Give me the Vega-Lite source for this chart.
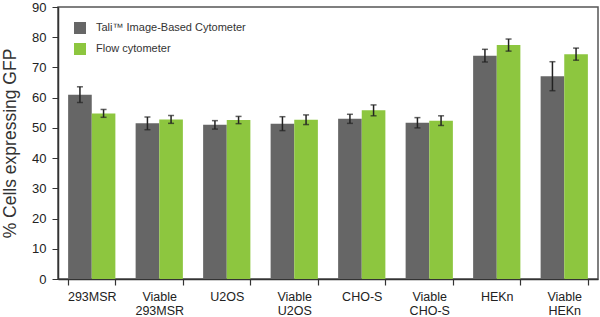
{
  "$schema": "https://vega.github.io/schema/vega-lite/v6.json",
  "width": 540,
  "height": 272,
  "autosize": {"type": "none"},
  "padding": {"left": 58, "top": 7, "right": 2, "bottom": 38},
  "background": "white",
  "config": {
    "font": "Liberation Sans",
    "view": {"stroke": "#555555", "strokeWidth": 1.5},
    "axisY": {
      "titleFontSize": 17.5,
      "titleFontWeight": "normal",
      "titleColor": "#333333",
      "titlePadding": 12,
      "labelOverlap": false,
      "labelFlush": false,
      "labelFontSize": 13,
      "labelColor": "#222222",
      "labelPadding": 6,
      "grid": false,
      "tickSize": 6,
      "tickColor": "#333333",
      "domainColor": "#333333",
      "domainWidth": 1.5
    }
  },
  "data": {
    "values": [
      {"cat": "293MSR", "method": "Tali™ Image-Based Cytometer", "value": 61.0, "err": 2.6},
      {"cat": "293MSR", "method": "Flow cytometer", "value": 54.8, "err": 1.3},
      {"cat": "Viable|293MSR", "method": "Tali™ Image-Based Cytometer", "value": 51.5, "err": 2.1},
      {"cat": "Viable|293MSR", "method": "Flow cytometer", "value": 52.8, "err": 1.3},
      {"cat": "U2OS", "method": "Tali™ Image-Based Cytometer", "value": 51.0, "err": 1.4},
      {"cat": "U2OS", "method": "Flow cytometer", "value": 52.6, "err": 1.2},
      {"cat": "Viable|U2OS", "method": "Tali™ Image-Based Cytometer", "value": 51.4, "err": 2.3},
      {"cat": "Viable|U2OS", "method": "Flow cytometer", "value": 52.7, "err": 1.6},
      {"cat": "CHO-S", "method": "Tali™ Image-Based Cytometer", "value": 53.0, "err": 1.5},
      {"cat": "CHO-S", "method": "Flow cytometer", "value": 55.8, "err": 1.8},
      {"cat": "Viable|CHO-S", "method": "Tali™ Image-Based Cytometer", "value": 51.7, "err": 1.7},
      {"cat": "Viable|CHO-S", "method": "Flow cytometer", "value": 52.4, "err": 1.6},
      {"cat": "HEKn", "method": "Tali™ Image-Based Cytometer", "value": 73.9, "err": 2.1},
      {"cat": "HEKn", "method": "Flow cytometer", "value": 77.4, "err": 2.0},
      {"cat": "Viable|HEKn", "method": "Tali™ Image-Based Cytometer", "value": 67.1, "err": 4.8},
      {"cat": "Viable|HEKn", "method": "Flow cytometer", "value": 74.4, "err": 2.0}
    ]
  },
  "transform": [
    {"calculate": "datum.value - datum.err", "as": "lo"},
    {"calculate": "datum.value + datum.err", "as": "hi"}
  ],
  "encoding": {
    "x": {
      "field": "cat",
      "type": "nominal",
      "sort": null,
      "scale": {"paddingInner": 0.3, "paddingOuter": 0.15},
      "axis": {
        "title": null,
        "labelAngle": 0,
        "labelExpr": "split(datum.label, '|')",
        "labelFontSize": 12.5,
        "labelColor": "#222222",
        "labelPadding": 5,
        "labelLineHeight": 14,
        "tickBand": "extent",
        "tickSize": 6,
        "tickColor": "#333333",
        "tickWidth": 1.2,
        "domainColor": "#333333",
        "domainWidth": 1.5
      }
    },
    "xOffset": {
      "field": "method",
      "type": "nominal",
      "sort": ["Tali™ Image-Based Cytometer", "Flow cytometer"],
      "scale": {"paddingInner": 0, "paddingOuter": 0}
    }
  },
  "layer": [
    {
      "mark": {"type": "bar"},
      "encoding": {
        "y": {
          "field": "value",
          "type": "quantitative",
          "scale": {"domain": [0, 90], "nice": false},
          "axis": {"title": "% Cells expressing GFP", "values": [0, 10, 20, 30, 40, 50, 60, 70, 80, 90]}
        },
        "color": {
          "field": "method",
          "type": "nominal",
          "sort": ["Tali™ Image-Based Cytometer", "Flow cytometer"],
          "scale": {"domain": ["Tali™ Image-Based Cytometer", "Flow cytometer"], "range": ["#666666", "#8dc63f"]},
          "legend": {
            "title": null,
            "orient": "none",
            "legendX": 16,
            "legendY": 15,
            "symbolType": "square",
            "symbolSize": 144,
            "symbolStrokeWidth": 0,
            "labelFontSize": 11,
            "labelLimit": 400,
            "labelColor": "#333333",
            "labelOffset": 10,
            "rowPadding": 9
          }
        }
      }
    },
    {
      "mark": {"type": "rule", "color": "#222222", "strokeWidth": 1.5},
      "encoding": {
        "y": {"field": "lo", "type": "quantitative", "axis": {"title": "% Cells expressing GFP", "values": [0, 10, 20, 30, 40, 50, 60, 70, 80, 90]}},
        "y2": {"field": "hi"}
      }
    },
    {
      "mark": {"type": "tick", "color": "#222222", "thickness": 1.5, "size": 6},
      "encoding": {"y": {"field": "lo", "type": "quantitative", "axis": {"title": "% Cells expressing GFP", "values": [0, 10, 20, 30, 40, 50, 60, 70, 80, 90]}}}
    },
    {
      "mark": {"type": "tick", "color": "#222222", "thickness": 1.5, "size": 6},
      "encoding": {"y": {"field": "hi", "type": "quantitative", "axis": {"title": "% Cells expressing GFP", "values": [0, 10, 20, 30, 40, 50, 60, 70, 80, 90]}}}
    }
  ]
}
